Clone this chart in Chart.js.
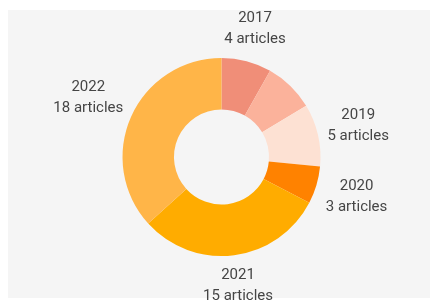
<!DOCTYPE html>
<html>
<head>
<meta charset="utf-8">
<script src="https://cdn.jsdelivr.net/npm/chart.js@4"></script>
<style>
  body { margin: 0; background: #fff; }
  #wrap { position: relative; width: 433px; height: 302px; }
  #panel { position: absolute; left: 8px; top: 10px; width: 422px; height: 288px; background: #f5f5f5; }
  #chart { position: absolute; left: 0; top: 0; }
</style>
</head>
<body>
<div id="wrap">
  <div id="panel"></div>
  <canvas id="chart" width="433" height="302"></canvas>
</div>
<script>
// data
const years = ["2017", "2018", "2019", "2020", "2021", "2022"];
const articles = [4, 4, 5, 3, 15, 18];
const showLabel = [true, false, true, true, true, true];
const sliceColors = ["#f08e78", "#fbb29b", "#fde1d3", "#ff8200", "#ffac00", "#ffb548"];

// labels drawn outside each slice
const outsideLabels = {
    id: "outsideLabels",
    afterDatasetsDraw: function(chart) {
        const ctx = chart.ctx;
        const meta = chart.getDatasetMeta(0);
        ctx.save();
        ctx.font = "15px Roboto";
        ctx.fillStyle = "#454545";
        ctx.textAlign = "center";
        ctx.textBaseline = "middle";
        const lineH = 21;
        meta.data.forEach(function(arc, i) {
            if (!showLabel[i]) return;
            const p = arc.getProps(["x", "y", "startAngle", "endAngle", "outerRadius"], true);
            const mid = (p.startAngle + p.endAngle) / 2;
            const dx = Math.cos(mid), dy = Math.sin(mid);
            const l1 = years[i];
            const l2 = articles[i] + " articles";
            const w = Math.max(ctx.measureText(l1).width, ctx.measureText(l2).width);
            const h = lineH * 2 - 4;
            const r = p.outerRadius + 7 + Math.abs(dx) * w / 2 + Math.abs(dy) * h / 2;
            const cx = p.x + dx * r;
            const cy = p.y + dy * r;
            ctx.fillText(l1, cx, cy - lineH / 2);
            ctx.fillText(l2, cx, cy + lineH / 2);
        });
        ctx.restore();
    }
};

new Chart(document.getElementById("chart"), {
    type: "doughnut",
    data: {
        labels: years,
        datasets: [{
            data: articles,
            backgroundColor: sliceColors,
            borderWidth: 0
        }]
    },
    options: {
        responsive: false,
        animation: false,
        cutout: "48%",
        layout: { padding: { top: 58, bottom: 46, left: 10, right: 0 } },
        plugins: {
            legend: { display: false },
            tooltip: { enabled: false }
        }
    },
    plugins: [outsideLabels]
});
</script>
</body>
</html>
